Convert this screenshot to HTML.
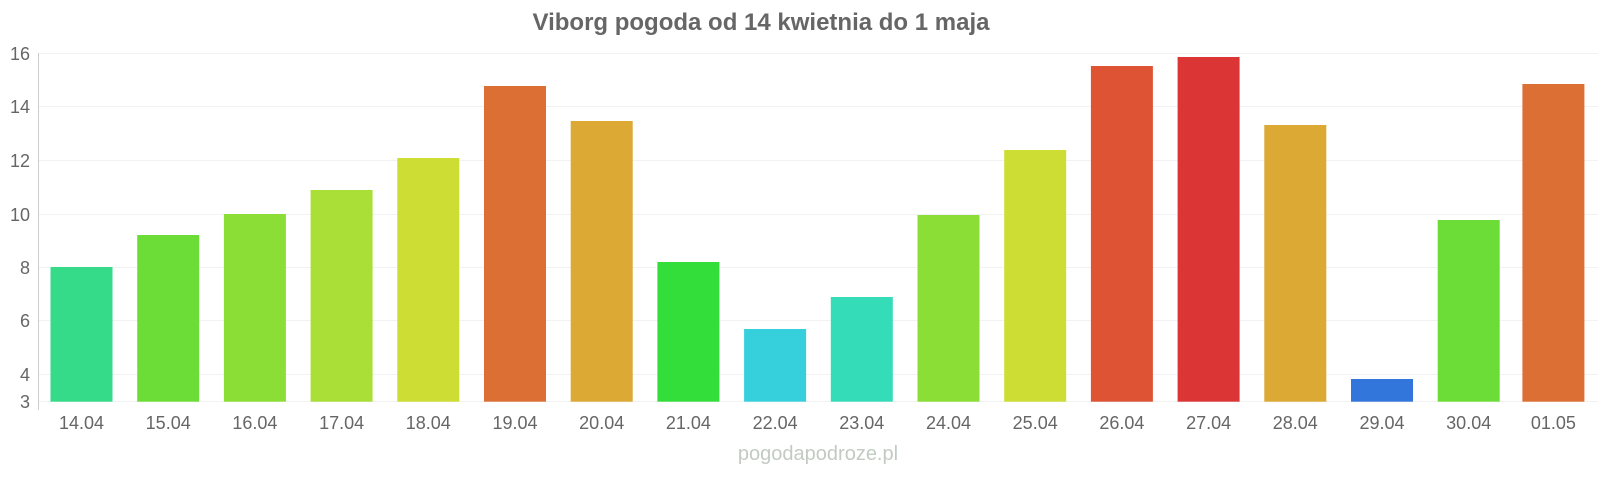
<!DOCTYPE html>
<html><head><meta charset="utf-8"><style>
html,body{margin:0;padding:0;background:#fff;}
svg{display:block;font-family:"Liberation Sans",Arial,sans-serif;}
</style></head><body>
<svg width="1600" height="480" viewBox="0 0 1600 480" xmlns="http://www.w3.org/2000/svg">
<text x="761" y="30" text-anchor="middle" font-size="24" font-weight="bold" fill="#666">Viborg pogoda od 14 kwietnia do 1 maja</text>
<g stroke="#f2f2f2" stroke-width="1">
<line x1="38" x2="1598" y1="53.5" y2="53.5"/>
<line x1="38" x2="1598" y1="106.5" y2="106.5"/>
<line x1="38" x2="1598" y1="160.5" y2="160.5"/>
<line x1="38" x2="1598" y1="214.5" y2="214.5"/>
<line x1="38" x2="1598" y1="267.5" y2="267.5"/>
<line x1="38" x2="1598" y1="320.5" y2="320.5"/>
<line x1="38" x2="1598" y1="374.5" y2="374.5"/>
<line x1="38" x2="1598" y1="401.5" y2="401.5"/>
</g>
<line x1="38.5" x2="38.5" y1="53" y2="410" stroke="#ccc"/>
<g font-size="18" fill="#666" text-anchor="end">
<text x="30" y="60">16</text>
<text x="30" y="113">14</text>
<text x="30" y="167">12</text>
<text x="30" y="221">10</text>
<text x="30" y="274">8</text>
<text x="30" y="327">6</text>
<text x="30" y="381">4</text>
<text x="30" y="408">3</text>
</g>
<g>
<rect x="50.5" y="267" width="62" height="134.7" fill="#36db8a"/>
<rect x="137.2" y="235" width="62" height="166.7" fill="#6cdd36"/>
<rect x="223.9" y="214" width="62" height="187.7" fill="#8ade36"/>
<rect x="310.6" y="190" width="62" height="211.7" fill="#a9df36"/>
<rect x="397.3" y="158" width="62" height="243.7" fill="#cddd33"/>
<rect x="484" y="86" width="62" height="315.7" fill="#dc7034"/>
<rect x="570.7" y="121" width="62" height="280.7" fill="#dca934"/>
<rect x="657.4" y="262" width="62" height="139.7" fill="#33dd3a"/>
<rect x="744.1" y="329" width="62" height="72.7" fill="#36cfdc"/>
<rect x="830.8" y="297" width="62" height="104.7" fill="#35dcb8"/>
<rect x="917.5" y="215" width="62" height="186.7" fill="#8ade36"/>
<rect x="1004.2" y="150" width="62" height="251.7" fill="#cddd33"/>
<rect x="1090.9" y="66" width="62" height="335.7" fill="#dd5334"/>
<rect x="1177.6" y="57" width="62" height="344.7" fill="#dc3535"/>
<rect x="1264.3" y="125" width="62" height="276.7" fill="#dca934"/>
<rect x="1351" y="379" width="62" height="22.7" fill="#3276dc"/>
<rect x="1437.7" y="220" width="62" height="181.7" fill="#6cdd36"/>
<rect x="1522.4" y="84" width="62" height="317.7" fill="#dc7034"/>
</g>
<g font-size="18" fill="#666" text-anchor="middle">
<text x="81.5" y="429">14.04</text>
<text x="168.2" y="429">15.04</text>
<text x="254.9" y="429">16.04</text>
<text x="341.6" y="429">17.04</text>
<text x="428.3" y="429">18.04</text>
<text x="515" y="429">19.04</text>
<text x="601.7" y="429">20.04</text>
<text x="688.4" y="429">21.04</text>
<text x="775.1" y="429">22.04</text>
<text x="861.8" y="429">23.04</text>
<text x="948.5" y="429">24.04</text>
<text x="1035.2" y="429">25.04</text>
<text x="1121.9" y="429">26.04</text>
<text x="1208.6" y="429">27.04</text>
<text x="1295.3" y="429">28.04</text>
<text x="1382" y="429">29.04</text>
<text x="1468.7" y="429">30.04</text>
<text x="1553.4" y="429">01.05</text>
</g>
<text x="818" y="460" text-anchor="middle" font-size="20" fill="#c2cbc2">pogodapodroze.pl</text>
</svg>
</body></html>
